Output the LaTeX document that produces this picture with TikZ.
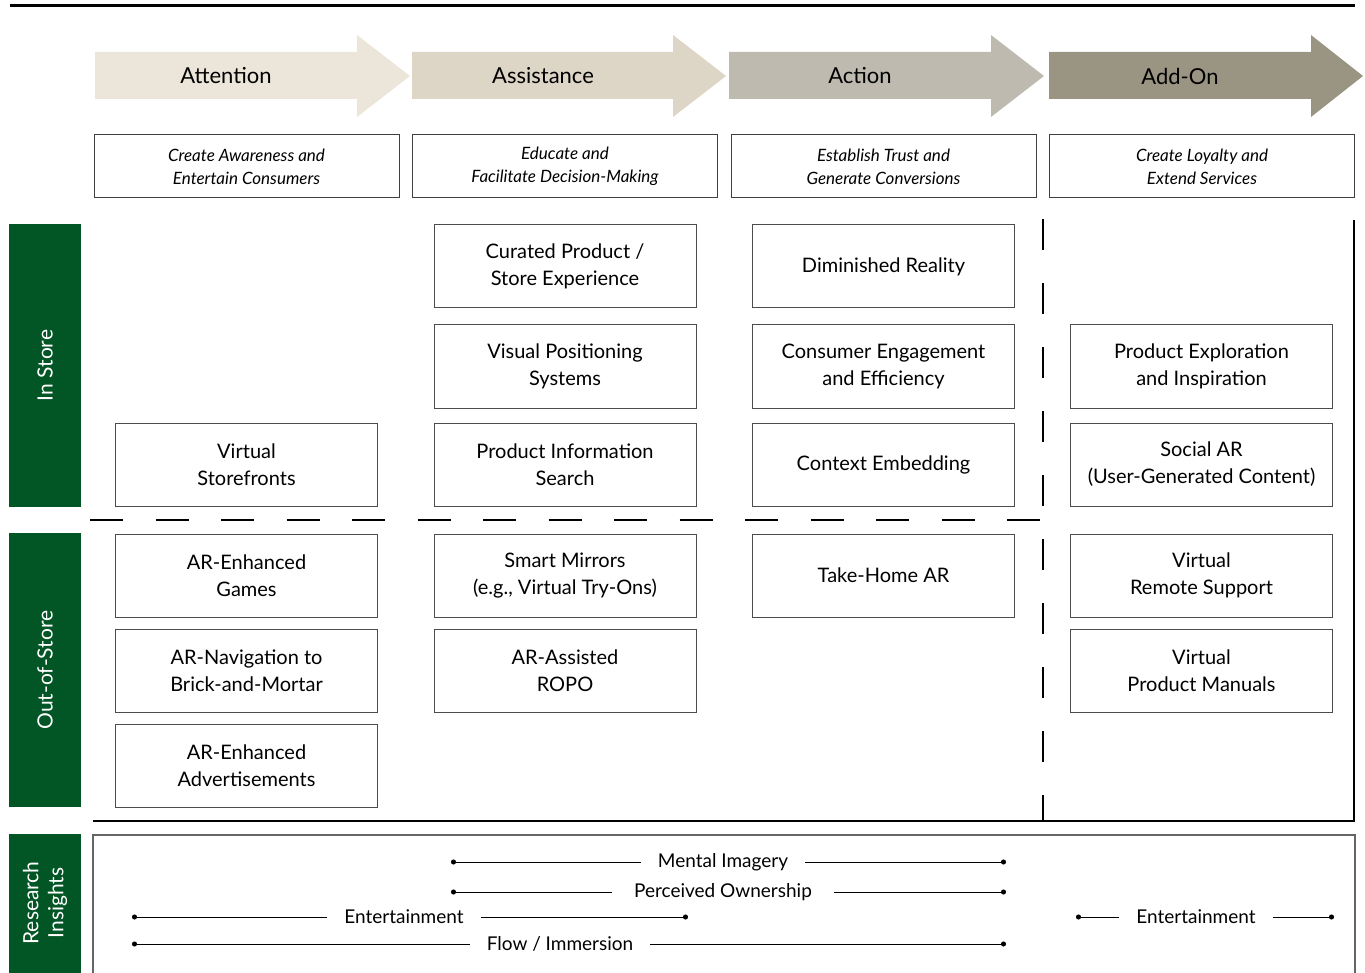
\documentclass[tikz,border=0pt]{standalone}
\usepackage{fontspec}
\setmainfont{Lato}
\usetikzlibrary{arrows.meta,positioning}
\definecolor{storegreen}{RGB}{2,85,36}
\definecolor{attcol}{RGB}{236,229,218}
\definecolor{asscol}{RGB}{221,213,197}
\definecolor{actcol}{RGB}{190,186,175}
\definecolor{addcol}{RGB}{154,148,131}

\begin{document}
\begin{tikzpicture}[x=1pt,y=-1pt,
  phase/.style={font=\fontsize{22}{26}\selectfont},
  goal/.style={draw=black!75,line width=1pt,minimum width=305,minimum height=63,align=center,
    font=\fontsize{17}{23}\selectfont\itshape},
  item/.style={draw=black!70,line width=1pt,minimum width=262,minimum height=83,align=center,
    font=\fontsize{20}{27}\selectfont},
  side/.style={fill=storegreen,text=white,minimum width=72,align=center,rotate=90,
    font=\fontsize{21}{25}\selectfont},
  insight/.style={inner xsep=17pt,inner ysep=0pt,font=\fontsize{19}{23}\selectfont},
  dotline/.style={line width=1pt,-{Circle[length=5pt]}}]
\useasboundingbox (0,0) rectangle (1365,973);

\draw[line width=3pt] (10,6) -- (1355,6);

% phases
\fill[attcol] (95,52) -- (357,52) -- (357,35) -- (410,76) -- (357,117) -- (357,99) -- (95,99) -- cycle;
\fill[asscol] (412,52) -- (673,52) -- (673,35) -- (726,76) -- (673,117) -- (673,99) -- (412,99) -- cycle;
\fill[actcol] (729,52) -- (991,52) -- (991,35) -- (1044,76) -- (991,117) -- (991,99) -- (729,99) -- cycle;
\fill[addcol] (1049,52) -- (1311,52) -- (1311,35) -- (1363,76) -- (1311,117) -- (1311,99) -- (1049,99) -- cycle;
\node[phase] (attention) at (226,76) {Attention};
\node[phase] (assistance) at (543,76) {Assistance};
\node[phase] (action) at (860,76) {Action};
\node[phase] (addon) at (1180,76) {Add-On};

% goals
\node[goal] (g1) at (246.5,166.5) {Create Awareness and\\Entertain Consumers};
\node[goal] (g2) at (565,166.5) {Educate and\\Facilitate Decision-Making};
\node[goal] (g3) at (883.5,166.5) {Establish Trust and\\Generate Conversions};
\node[goal] (g4) at (1202,166.5) {Create Loyalty and\\Extend Services};

% side bars
\node[side,minimum height=72,minimum width=283] (instore) at (45,365.5) {In Store};
\node[side,minimum height=72,minimum width=274] (outstore) at (45,670) {Out-of-Store};
\fill[storegreen] (9,834) rectangle (81,973);
\node[text=white,rotate=90,align=center,font=\fontsize{21}{25}\selectfont] (research) at (45,903) {Research\\Insights};

% in store
\node[item] (curated) at (565,266.5) {Curated Product /\\Store Experience};
\node[item] (diminished) at (883.5,266.5) {Diminished Reality};
\node[item] (vps) at (565,366.5) {Visual Positioning\\Systems};
\node[item] (engage) at (883.5,366.5) {Consumer Engagement\\and Efficiency};
\node[item] (explore) at (1201.5,366.5) {Product Exploration\\and Inspiration};
\node[item] (storefront) at (246.5,464.5) {Virtual\\Storefronts};
\node[item] (search) at (565,464.5) {Product Information\\Search};
\node[item] (context) at (883.5,464.5) {Context Embedding};
\node[item] (social) at (1201.5,464.5) {Social AR\\(User-Generated Content)};

% out of store
\node[item] (games) at (246.5,575.5) {AR-Enhanced\\Games};
\node[item] (mirrors) at (565,575.5) {Smart Mirrors\\(e.g., Virtual Try-Ons)};
\node[item] (takehome) at (883.5,575.5) {Take-Home AR};
\node[item] (remote) at (1201.5,575.5) {Virtual\\Remote Support};
\node[item] (navigation) at (246.5,670.5) {AR-Navigation to\\Brick-and-Mortar};
\node[item] (ropo) at (565,670.5) {AR-Assisted\\ROPO};
\node[item] (manuals) at (1201.5,670.5) {Virtual\\Product Manuals};
\node[item] (ads) at (246.5,765.5) {AR-Enhanced\\Advertisements};

% separators
\draw[line width=1.3pt,dash pattern=on 33pt off 32.5pt] (90,520) -- (1040,520);
\draw[line width=1.3pt,dash pattern=on 31pt off 33pt] (1043,219) -- (1043,821);
\draw[line width=1.2pt] (1354,220) -- (1354,821) -- (93,821);

% research insights
\draw[black!60,line width=1.2pt] (93,973) -- (93,835) -- (1355,835) -- (1355,973);
\coordinate (mi-l) at (451,862);
\coordinate (mi-r) at (1006,862);
\coordinate (po-l) at (451,892);
\coordinate (po-r) at (1006,892);
\coordinate (en-l) at (132,917);
\coordinate (en-r) at (688,917);
\coordinate (fl-l) at (132,944);
\coordinate (fl-r) at (1006,944);
\coordinate (en2-l) at (1076,917);
\coordinate (en2-r) at (1334,917);
\node[insight] (mental) at (723,862) {Mental Imagery};
\node[insight,inner xsep=22pt] (ownership) at (723,892) {Perceived Ownership};
\node[insight] (entertain) at (404,917) {Entertainment};
\node[insight] (flow) at (560,944) {Flow / Immersion};
\node[insight] (entertain2) at (1196,917) {Entertainment};
\draw[dotline] (mental) -- (mi-l);
\draw[dotline] (mental) -- (mi-r);
\draw[dotline] (ownership) -- (po-l);
\draw[dotline] (ownership) -- (po-r);
\draw[dotline] (entertain) -- (en-l);
\draw[dotline] (entertain) -- (en-r);
\draw[dotline] (flow) -- (fl-l);
\draw[dotline] (flow) -- (fl-r);
\draw[dotline] (entertain2) -- (en2-l);
\draw[dotline] (entertain2) -- (en2-r);
\end{tikzpicture}
\end{document}
